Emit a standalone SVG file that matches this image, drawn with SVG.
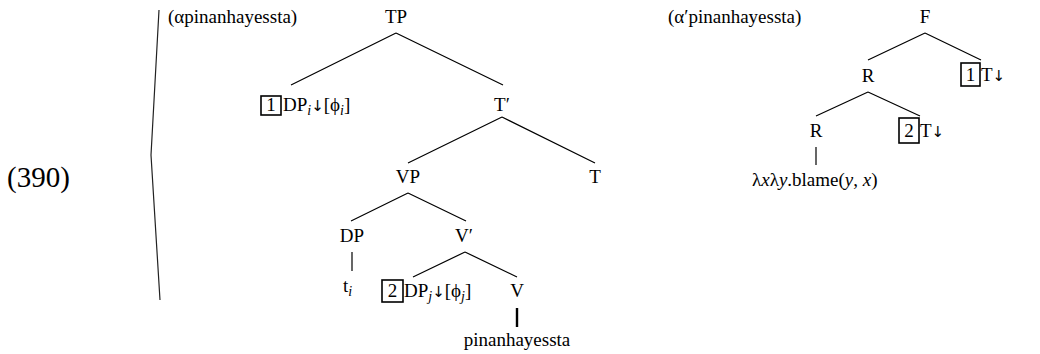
<svg xmlns="http://www.w3.org/2000/svg" width="1040" height="354" viewBox="0 0 1040 354">
<style>
text{font-family:'Liberation Serif','Times New Roman',serif;font-size:19px;fill:#000}
.m{text-anchor:middle}
.big{font-size:29px}
.sub{font-size:14px;font-style:italic}
.it{font-style:italic}
.ar{font-family:'DejaVu Sans',sans-serif;font-size:15px}
.box{fill:none;stroke:#000;stroke-width:1.6}
.e{stroke:#000;stroke-width:1.2;fill:none}
.th{stroke:#000;stroke-width:2.4}
</style>
<rect width="1040" height="354" fill="#fff"/>
<g id="label"><text x="7" y="187" class="big">(390)</text></g>
<path d="M159,10 L151,155 L160,300" fill="none" stroke="#222" stroke-width="1.2"/>
<g id="connectors">
<path class="e" d="M396,33 L291,85 M396,33 L503,85"/>
<path class="e" d="M502,117 L408,163 M502,117 L595,163"/>
<path class="e" d="M408,193 L351,221 M408,193 L466,221"/>
<path class="e" d="M352,252 L352,271"/>
<path class="e" d="M465,252 L413,277 M465,252 L517,277"/>
<path class="th" d="M517,308 L517,327"/>
<path class="e" d="M925,33 L868,60 M925,33 L981,60"/>
<path class="e" d="M868,92 L816,116 M868,92 L920,116"/>
<path class="e" d="M816,147 L816,165"/>
</g>
<g id="alpha-title"><text x="168" y="23">(αpinanhayessta)</text></g>
<g id="TP"><text x="396" y="23" class="m">TP</text></g>
<g id="DPi"><rect class="box" x="261" y="96" width="20" height="19"/><text x="271" y="111" class="m">1</text><text x="283" y="111">DP<tspan class="sub" dy="4">i</tspan><tspan class="ar" dy="-4">↓︎</tspan><tspan>[ϕ</tspan><tspan class="sub" dy="4">i</tspan><tspan dy="-4">]</tspan></text></g>
<g id="Tbar"><text x="502" y="111" class="m">T′</text></g>
<g id="VP"><text x="408" y="183" class="m">VP</text></g>
<g id="T"><text x="595" y="183" class="m">T</text></g>
<g id="DP"><text x="352" y="242" class="m">DP</text></g>
<g id="Vbar"><text x="464" y="242" class="m">V′</text></g>
<g id="ti"><text x="343" y="292">t<tspan class="sub" dy="4">i</tspan></text></g>
<g id="DPj"><rect class="box" x="382" y="280" width="21" height="22"/><text x="392.5" y="297" class="m">2</text><text x="404" y="297">DP<tspan class="sub" dy="4">j</tspan><tspan class="ar" dy="-4">↓︎</tspan><tspan>[ϕ</tspan><tspan class="sub" dy="4">j</tspan><tspan dy="-4">]</tspan></text></g>
<g id="V"><text x="517" y="297" class="m">V</text></g>
<g id="pinanhayessta"><text x="517" y="346" class="m">pinanhayessta</text></g>
<g id="alphaprime-title"><text x="668" y="23">(α′pinanhayessta)</text></g>
<g id="F"><text x="925" y="23" class="m">F</text></g>
<g id="R1"><text x="868" y="82" class="m">R</text></g>
<g id="T1"><rect class="box" x="961" y="63" width="19" height="23"/><text x="970.5" y="81" class="m">1</text><text x="981" y="81">T<tspan class="ar">↓︎</tspan></text></g>
<g id="R2"><text x="816" y="137" class="m">R</text></g>
<g id="T2"><rect class="box" x="899" y="118" width="20" height="25"/><text x="909" y="137" class="m">2</text><text x="920" y="137">T<tspan class="ar">↓︎</tspan></text></g>
<g id="blame"><text x="752" y="186">λ<tspan class="it">x</tspan>λ<tspan class="it">y</tspan>.blame(<tspan class="it">y</tspan>, <tspan class="it">x</tspan>)</text></g>
</svg>
